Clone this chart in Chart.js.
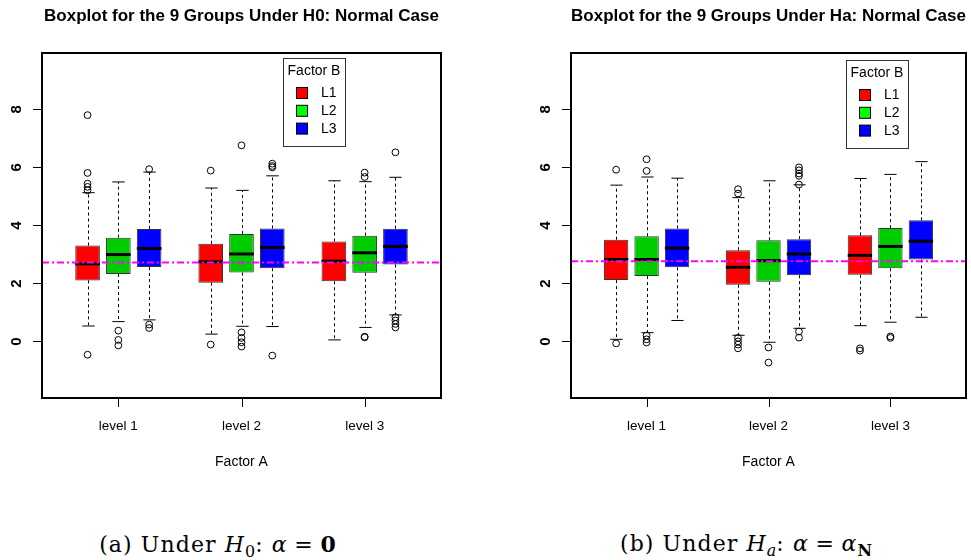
<!DOCTYPE html>
<html>
<head>
<meta charset="utf-8">
<script src="https://cdn.jsdelivr.net/npm/chart.js@4/dist/chart.umd.min.js"></script>
<style>
  html, body { margin: 0; padding: 0; background: #fff; }
  body { width: 971px; height: 560px; position: relative; overflow: hidden; }
  canvas { position: absolute; top: 0; }
  #left { left: 0; }
  #right { left: 529px; }
  .caption {
    position: absolute; top: 531px; white-space: nowrap; transform: translateX(-50%);
    font-family: "DejaVu Serif", "Liberation Serif", serif; font-size: 22px; line-height: 26px;
    letter-spacing: 1.1px; color: #000;
  }
  .caption .sub { position: relative; top: 0.3em; font-size: 0.72em; letter-spacing: 0; }
  .caption .op { padding: 0 0.3em; }
</style>
</head>
<body>
<canvas id="left" width="485" height="480"></canvas>
<canvas id="right" width="442" height="480"></canvas>
<div class="caption" style="left:218px">(a) Under <i>H</i><span class="sub">0</span>: <i>α</i><span class="op">=</span><b>0</b></div>
<div class="caption" style="left:746px">(b) Under <i>H</i><span class="sub"><i>a</i></span>: <i>α</i><span class="op">=</span><i>α</i><span class="sub"><b>N</b></span></div>
<script>
// categorias y ejes
const groupLabels = ['level 1', 'level 2', 'level 3'];
const factorB = ['L1', 'L2', 'L3'];
const boxPos = [1, 2, 3, 5, 6, 7, 9, 10, 11];
const groupTicks = [2, 6, 10];
const yTicks = [0, 2, 4, 6, 8];

// Panel H0 (orden: L1, L2, L3 dentro de cada nivel de A)
const h0Low = [0.54, 0.69, 0.75, 0.26, 0.53, 0.52, 0.06, 0.49, 0.92];
const h0Q1 = [2.11, 2.33, 2.57, 2.03, 2.38, 2.53, 2.08, 2.37, 2.66];
const h0Med = [2.68, 3.00, 3.21, 2.75, 3.02, 3.24, 2.77, 3.06, 3.28];
const h0Q3 = [3.31, 3.58, 3.88, 3.37, 3.71, 3.90, 3.45, 3.65, 3.89];
const h0High = [5.13, 5.50, 5.84, 5.29, 5.21, 5.71, 5.54, 5.51, 5.66];
const h0Out = [
  [7.80, 5.81, 5.44, 5.33, 5.21, -0.45],
  [0.38, 0.06, -0.13],
  [5.94, 0.59, 0.47],
  [5.89, -0.10],
  [6.76, 0.32, 0.13, -0.02, -0.17],
  [6.13, 6.05, 6.00, -0.48],
  [],
  [5.82, 5.67, 0.17, 0.15],
  [6.52, 0.84, 0.73, 0.61, 0.49],
];
const h0Mean = 2.73;

// Panel Ha
const haLow = [0.08, 0.31, 0.73, 0.22, -0.02, 0.46, 0.55, 0.67, 0.84];
const haQ1 = [2.12, 2.26, 2.56, 1.96, 2.06, 2.29, 2.30, 2.53, 2.83];
const haMed = [2.83, 2.83, 3.22, 2.56, 2.79, 3.02, 2.97, 3.28, 3.46];
const haQ3 = [3.51, 3.63, 3.90, 3.15, 3.49, 3.53, 3.66, 3.91, 4.18];
const haHigh = [5.39, 5.67, 5.63, 4.96, 5.54, 5.40, 5.62, 5.76, 6.20];
const haOut = [
  [5.92, -0.06],
  [6.28, 5.88, 0.21, 0.08, -0.03],
  [],
  [5.25, 5.10, 0.13, 0.01, -0.10, -0.23],
  [-0.20, -0.72],
  [6.00, 5.90, 5.79, 5.71, 5.41, 0.35, 0.14],
  [-0.23, -0.31],
  [0.18, 0.13],
  [],
];
const haMean = 2.77;

const boxFill = ['#ff0000', '#00cd00', '#0000ff'];
const legendFill = ['#ff0000', '#00ff00', '#0000ff'];
const FONT = '"Liberation Sans", Arial, Helvetica, sans-serif';
Chart.defaults.font.family = FONT;
Chart.defaults.color = '#000';

const seg = (ctx, x1, y1, x2, y2) => { ctx.beginPath(); ctx.moveTo(x1, y1); ctx.lineTo(x2, y2); ctx.stroke(); };

// bigotes, medianas, línea de referencia, marco, ticks de x y leyenda
function boxParts(p) {
  return {
    id: 'boxParts',
    afterDatasetsDraw(chart) {
      const { ctx, chartArea: a, scales: { x, y } } = chart;
      const boxHalf = x.getPixelForValue(0.4) - x.getPixelForValue(0);
      const capHalf = boxHalf / 2;
      ctx.save();
      ctx.strokeStyle = '#000';
      boxPos.forEach((v, i) => {
        const cx = Math.round(x.getPixelForValue(v)) + 0.5;
        ctx.lineWidth = 1;
        ctx.setLineDash([3, 3]);
        seg(ctx, cx, y.getPixelForValue(p.q3[i]), cx, y.getPixelForValue(p.hi[i]));
        seg(ctx, cx, y.getPixelForValue(p.q1[i]), cx, y.getPixelForValue(p.lo[i]));
        ctx.setLineDash([]);
        seg(ctx, cx - capHalf, y.getPixelForValue(p.hi[i]), cx + capHalf, y.getPixelForValue(p.hi[i]));
        seg(ctx, cx - capHalf, y.getPixelForValue(p.lo[i]), cx + capHalf, y.getPixelForValue(p.lo[i]));
        ctx.lineWidth = 3;
        const xc = x.getPixelForValue(v);
        seg(ctx, xc - boxHalf, y.getPixelForValue(p.med[i]), xc + boxHalf, y.getPixelForValue(p.med[i]));
      });
      // abline de la media global
      ctx.strokeStyle = '#ff00ff';
      ctx.lineWidth = 2;
      ctx.setLineDash([7, 3, 2, 3]);
      const ym = y.getPixelForValue(p.ref);
      seg(ctx, a.left, ym, a.right, ym);
      ctx.restore();
    },
    afterDraw(chart) {
      const { ctx, chartArea: a, scales: { x } } = chart;
      ctx.save();
      // marco
      ctx.strokeStyle = '#000';
      ctx.lineWidth = 2;
      ctx.strokeRect(a.left, a.top, a.right - a.left, a.bottom - a.top);
      // marcas del eje x
      ctx.lineWidth = 1;
      groupTicks.forEach((v) => {
        const tx = Math.round(x.getPixelForValue(v)) + 0.5;
        seg(ctx, tx, a.bottom, tx, a.bottom + 9);
      });
      // leyenda
      const lx = a.left + p.legend.dx, ly = a.top + p.legend.dy;
      ctx.fillStyle = '#fff';
      ctx.fillRect(lx, ly, 62, 88);
      ctx.strokeStyle = '#333';
      ctx.strokeRect(lx + 0.5, ly + 0.5, 62, 88);
      ctx.font = '14px ' + FONT;
      ctx.fillStyle = '#000';
      ctx.textAlign = 'center';
      ctx.textBaseline = 'middle';
      ctx.fillText('Factor B', lx + 31, ly + 13);
      factorB.forEach((name, k) => {
        const cy = ly + 35 + k * 17.8;
        ctx.fillStyle = legendFill[k];
        ctx.fillRect(lx + 13.5, cy - 5.5, 11, 11);
        ctx.strokeStyle = '#000';
        ctx.strokeRect(lx + 13.5, cy - 5.5, 11, 11);
        ctx.fillStyle = '#000';
        ctx.textAlign = 'left';
        ctx.fillText(name, lx + 38, cy + 0.5);
      });
      ctx.restore();
    },
  };
}

function makePanel(id, title, p, padRight) {
  const boxes = boxPos.map((v, i) => ({ x: v, y: [p.q1[i], p.q3[i]] }));
  const outliers = boxPos.flatMap((v, i) => p.out[i].map((o) => ({ x: v, y: o })));
  return new Chart(document.getElementById(id), {
    type: 'bar',
    data: {
      datasets: [
        {
          type: 'scatter', data: outliers, pointStyle: 'circle', pointRadius: 3.4,
          backgroundColor: 'rgba(0,0,0,0)', borderColor: '#000', borderWidth: 1,
        },
        {
          data: boxes, backgroundColor: boxPos.map((_, i) => boxFill[i % 3]),
          borderColor: '#333', borderWidth: 1, borderSkipped: false,
          categoryPercentage: 0.8, barPercentage: 1,
        },
      ],
    },
    options: {
      responsive: false, animation: false,
      layout: { padding: { left: 0, right: padRight, top: 0, bottom: 0 } },
      plugins: {
        legend: { display: false },
        tooltip: { enabled: false },
        title: {
          display: true, text: title, fullSize: false, color: '#000',
          font: { size: 17, weight: 'bold' }, padding: { top: 5.8, bottom: 26.8 },
        },
      },
      scales: {
        x: {
          type: 'linear', min: -0.48, max: 12.48, offset: false,
          afterFit: (s) => { s.height = 82; },
          afterBuildTicks: (s) => { s.ticks = groupTicks.map((v) => ({ value: v })); },
          grid: { display: false, drawTicks: true, tickLength: 9 },
          border: { display: false },
          ticks: {
            autoSkip: false, maxRotation: 0, padding: 11.6, color: '#000',
            font: { size: 13.5 }, callback: (v, i) => groupLabels[i],
          },
          title: { display: true, text: 'Factor A', color: '#000', font: { size: 14 }, padding: { top: 0, bottom: 9.9 } },
        },
        y: {
          type: 'linear', min: -1.94, max: 9.94,
          afterFit: (s) => { s.width = 42; },
          afterBuildTicks: (s) => { s.ticks = yTicks.map((v) => ({ value: v })); },
          grid: { drawOnChartArea: false, drawTicks: true, tickLength: 9, color: '#000', lineWidth: 1 },
          border: { display: false },
          ticks: {
            minRotation: 90, maxRotation: 90, crossAlign: 'center', padding: 11.8, color: '#000',
            font: { size: 15, weight: 'bold' },
          },
        },
      },
    },
    plugins: [boxParts(p)],
  });
}

makePanel('left', 'Boxplot for the 9 Groups Under H0: Normal Case', {
  lo: h0Low, q1: h0Q1, med: h0Med, q3: h0Q3, hi: h0High, out: h0Out, ref: h0Mean,
  legend: { dx: 241, dy: 5 },
}, 44);

makePanel('right', 'Boxplot for the 9 Groups Under Ha: Normal Case', {
  lo: haLow, q1: haQ1, med: haMed, q3: haQ3, hi: haHigh, out: haOut, ref: haMean,
  legend: { dx: 275, dy: 7 },
}, 1);
</script>
</body>
</html>
